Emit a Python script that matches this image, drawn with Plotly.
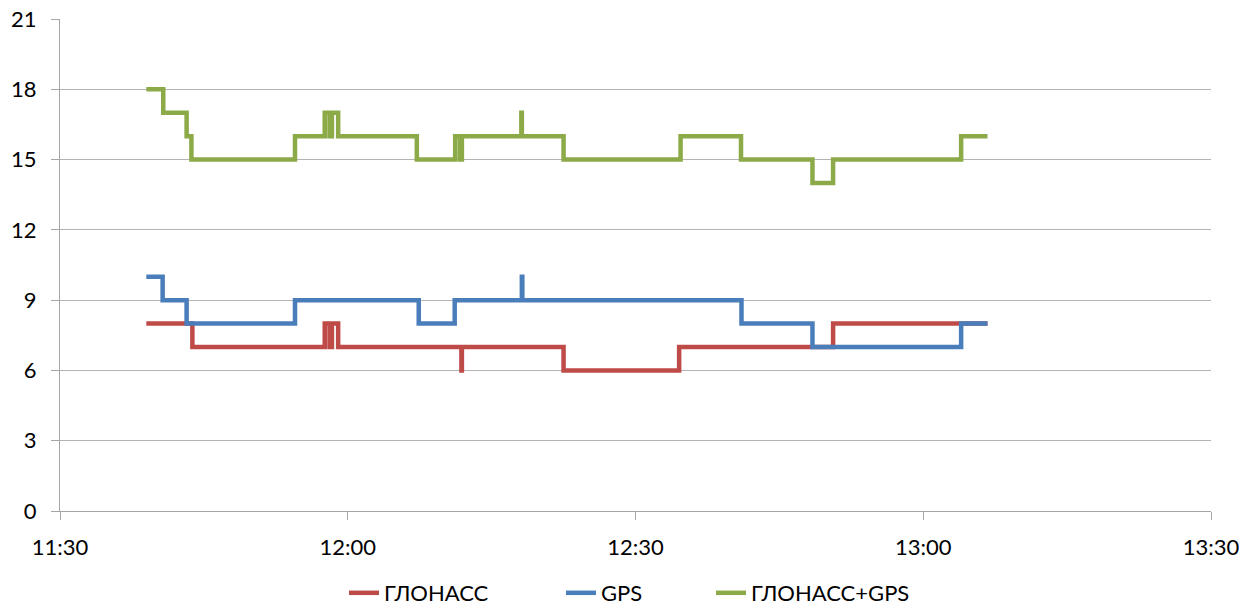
import plotly.graph_objects as go

DAY = "2024-01-01 "

glonass_t = ["11:39:00", "11:43:48", "11:57:36", "11:58:06", "11:58:21", "11:59:00",
             "12:11:51", "12:11:54", "12:22:30", "12:34:33", "12:50:36", "13:06:42"]
glonass_v = [8, 7, 8, 7, 8, 7, 6, 7, 6, 7, 8, 8]

gps_t = ["11:39:00", "11:40:42", "11:43:12", "11:54:30", "12:07:24", "12:11:09",
         "12:18:09", "12:18:12", "12:41:03", "12:48:27", "13:03:57", "13:06:42"]
gps_v = [10, 9, 8, 9, 8, 9, 10, 9, 8, 7, 8, 8]

both_t = ["11:39:00", "11:40:46", "11:43:12", "11:43:42", "11:54:30", "11:57:36",
          "11:58:06", "11:58:21", "11:59:00", "12:07:12", "12:11:12", "12:11:42",
          "12:11:54", "12:18:06", "12:18:09", "12:22:30", "12:34:42", "12:41:00",
          "12:48:27", "12:50:36", "13:03:57", "13:06:42"]
both_v = [18, 17, 16, 15, 16, 17, 16, 17, 16, 15, 16, 15, 16, 17, 16, 15, 16, 15,
          14, 15, 16, 16]

series = [
    ("ГЛОНАСС", glonass_t, glonass_v, "#BE4B48"),
    ("GPS", gps_t, gps_v, "#4A7EBB"),
    ("ГЛОНАСС+GPS", both_t, both_v, "#8CAA48"),
]

y_ticks = [0, 3, 6, 9, 12, 15, 18, 21]
x_range = ["11:30:00", "13:30:00"]

legend_ids = ["legend", "legend2", "legend3"]
legend_left_px = [344, 561, 711]

fig = go.Figure()
for (name, t, v, c), lid in zip(series, legend_ids):
    fig.add_trace(go.Scatter(
        x=[DAY + s for s in t], y=v, name=name, mode="lines",
        line=dict(color=c, width=4.5, shape="hv"), legend=lid,
    ))

FONT = "Lato, Carlito, 'Liberation Sans', sans-serif"
W, H = 1259, 610
legends = {}
for lid, px in zip(legend_ids, legend_left_px):
    legends[lid] = dict(
        orientation="h", xref="container", yref="container",
        x=px / W, xanchor="left", y=(H - 593) / H, yanchor="middle",
        font=dict(size=22), itemwidth=30, bgcolor="rgba(0,0,0,0)",
    )

fig.update_layout(
    width=W, height=H,
    margin=dict(l=60, r=48, t=19, b=99, autoexpand=False),
    paper_bgcolor="white", plot_bgcolor="white",
    font=dict(family=FONT, size=22, color="#000000"),
    showlegend=True,
    xaxis=dict(
        type="date", range=[DAY + x_range[0], DAY + x_range[1]],
        dtick=30 * 60 * 1000, tick0=DAY + "11:30:00", tickformat="%H:%M",
        showgrid=False, showline=True, linecolor="#A6A6A6", linewidth=1,
        ticks="outside", ticklen=8, tickcolor="#A6A6A6", ticklabelstandoff=9,
        zeroline=False, automargin=False,
    ),
    yaxis=dict(
        range=[0, 21], tickvals=y_ticks, showgrid=True, gridcolor="#B3B3B3", gridwidth=1,
        showline=True, linecolor="#A6A6A6", linewidth=1,
        ticks="outside", ticklen=8, tickcolor="#A6A6A6", ticklabelstandoff=10,
        zeroline=False, automargin=False,
    ),
    **legends,
)

fig.write_html("out.html")
